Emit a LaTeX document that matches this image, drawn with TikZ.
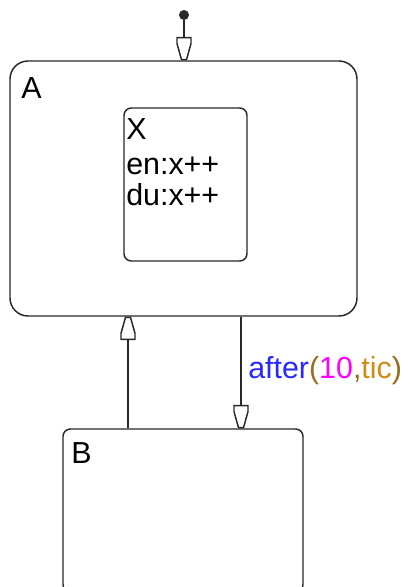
\documentclass[tikz,border=0pt]{standalone}
\usepackage{fontspec}
\setmainfont{Liberation Sans}
\usetikzlibrary{fit,arrows.meta}
\definecolor{kwblue}{RGB}{40,40,255}
\definecolor{nummag}{RGB}{255,0,255}
\definecolor{parbrown}{RGB}{150,110,30}
\definecolor{evgold}{RGB}{205,140,20}
\definecolor{linegray}{RGB}{40,40,40}
\pgfdeclarearrow{
  name = SF,
  setup code = {
    \pgfarrowssettipend{0.5pt}
    \pgfarrowssetlineend{-16pt}
    \pgfarrowssetbackend{-17pt}
    \pgfarrowshullpoint{0pt}{0pt}
    \pgfarrowshullpoint{-16.5pt}{5.25pt}
    \pgfarrowshullpoint{-16.5pt}{-5.25pt}
  },
  drawing code = {
    \pgfsetdash{}{0pt}
    \pgfsetfillcolor{white}
    \pgfpathmoveto{\pgfqpoint{0pt}{1.9pt}}
    \pgfpathlineto{\pgfqpoint{-12pt}{5.25pt}}
    \pgfpathlineto{\pgfqpoint{-16.5pt}{5.25pt}}
    \pgfpathlineto{\pgfqpoint{-16.5pt}{-5.25pt}}
    \pgfpathlineto{\pgfqpoint{-12pt}{-5.25pt}}
    \pgfpathlineto{\pgfqpoint{0pt}{-1.9pt}}
    \pgfpathclose
    \pgfusepathqfillstroke
  }
}
\tikzset{
  statebox/.style={draw=linegray, line width=1.1pt, inner sep=0pt, fill=none},
  lbl/.style={anchor=base west, inner sep=0pt, font=\fontsize{22.8}{27}\selectfont},
  trans/.style={draw=linegray, line width=1.1pt, -SF},
}
\begin{document}
\begin{tikzpicture}[x=0.75pt,y=-0.75pt]
\useasboundingbox (0,0) rectangle (410,587);
\clip (0,0) rectangle (410,587);
\fill[white] (0,0) rectangle (410,587);
% states
\node[statebox, rounded corners=13.5pt, fit={(10,61) (357,316)}] (A) {};
\node[statebox, rounded corners=5.5pt, fit={(124,108) (247,261)}] (X) {};
\node[statebox, rounded corners=5.5pt, fit={(63,429) (303,592)}] (B) {};
% labels
\node[lbl] (Alab) at (21,98) {A};
\node[lbl] (Xlab) at (126,139) {X};
\node[lbl] (Xen) at (126,174) {en:x++};
\node[lbl] (Xdu) at (126,205) {du:x++};
\node[lbl] (Blab) at (71,463) {B};
% default transition
\node[circle, fill=linegray, inner sep=0pt, minimum size=7.5pt] (init) at (184,15) {};
\draw[trans] (init) -- (init |- A.north);
% transitions
\coordinate (ab) at (241,0);
\coordinate (ba) at (128,0);
\draw[trans] (ab |- A.south) -- (ab |- B.north);
\draw[trans] (ba |- B.north) -- (ba |- A.south);
\node[lbl] (tlab) at (248,378) {\textcolor{kwblue}{after}\textcolor{parbrown}{(}\textcolor{nummag}{10}\textcolor{parbrown}{,}\textcolor{evgold}{tic}\textcolor{parbrown}{)}};
\end{tikzpicture}
\end{document}
